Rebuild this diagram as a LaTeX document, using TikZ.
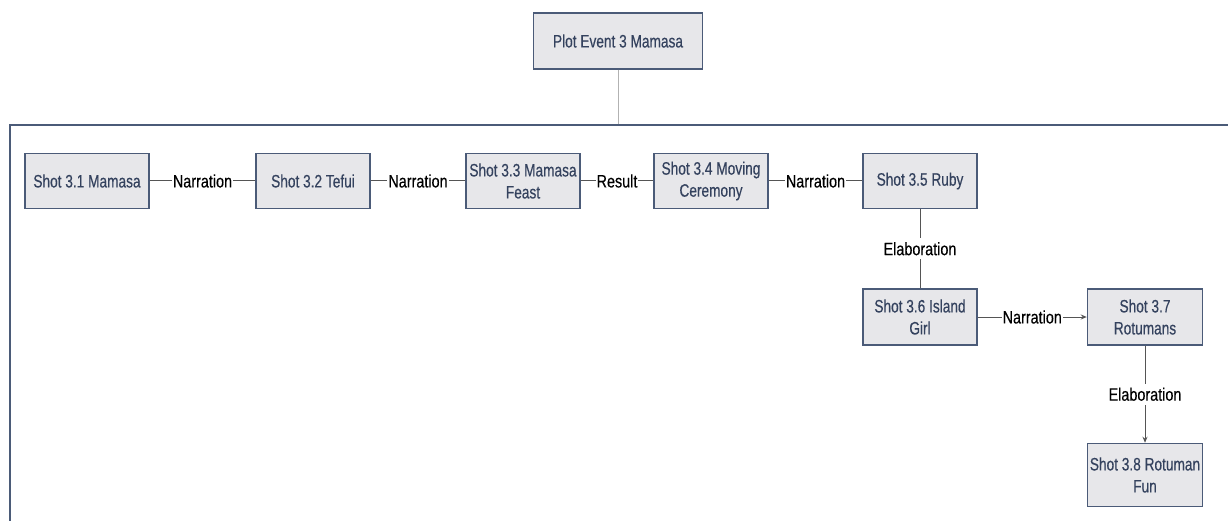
\documentclass[tikz,border=0pt]{standalone}
\usepackage{fontspec}
\setmainfont[FakeStretch=0.76, FakeBold=0.4]{Liberation Sans}
\newfontfamily\lblfont[FakeStretch=0.8, FakeBold=0.3]{Liberation Sans}
\usetikzlibrary{arrows.meta}

\definecolor{boxline}{HTML}{4B5B78}
\definecolor{boxfill}{HTML}{E7E7EA}
\definecolor{boxtext}{HTML}{34425E}
\definecolor{linkgray}{HTML}{555555}

\tikzset{
  shot/.style={draw=boxline, fill=boxfill, line width=1.5pt, text=boxtext,
    minimum width=114pt, minimum height=55pt, align=center, inner xsep=2pt,
    font=\fontsize{18}{22}\selectfont},
  link/.style={draw=linkgray, line width=1pt},
  lbl/.style={fill=white, inner sep=1pt, text=black,
    font=\lblfont\fontsize{18}{22}\selectfont},
}

\begin{document}
\begin{tikzpicture}[x=1pt, y=-1pt, >={Stealth[length=6pt,width=5pt]}]
  % 1. page and clip
  \clip (0,0) rectangle (1228,521);
  \fill[white] (0,0) rectangle (1228,521);

  % 2. the plot event and its frame
  \node[shot, minimum width=169pt, minimum height=56pt] (p3) at (618,41) {Plot Event 3 Mamasa};
  \coordinate (ftop) at (618,125);
  \draw[draw=gray!60, line width=1pt] (p3) -- (ftop);
  \draw[boxline, line width=2pt] (1240,125) -- (10,125) -- (10,540);

  % 3. the shots in the first row
  \node[shot, minimum width=124pt] (s31) at (87,181) {Shot 3.1 Mamasa};
  \node[shot] (s32) at (313,181) {Shot 3.2 Tefui};
  \node[shot] (s33) at (523,181) {Shot 3.3 Mamasa\\Feast};
  \node[shot] (s34) at (711,181) {Shot 3.4 Moving\\Ceremony};
  \node[shot] (s35) at (920,181) {Shot 3.5 Ruby};

  % 4. the shots further down
  \node[shot, minimum height=56pt] (s36) at (920,317) {Shot 3.6 Island\\Girl};
  \node[shot, minimum width=115pt, minimum height=56pt] (s37) at (1145,317) {Shot 3.7\\Rotumans};
  \node[shot, minimum width=115pt, minimum height=63pt] (s38) at (1145,475) {Shot 3.8 Rotuman\\Fun};

  % 5. relations
  \draw[link] (s31) -- node[lbl] {Narration} (s32);
  \draw[link] (s32) -- node[lbl] {Narration} (s33);
  \draw[link] (s33) -- node[lbl] {Result} (s34);
  \draw[link] (s34) -- node[lbl] {Narration} (s35);
  \draw[link] (s35) -- node[lbl, inner sep=4pt] {Elaboration} (s36);
  \draw[link, ->] (s36) -- node[lbl] {Narration} (s37);
  \draw[link, ->] (s37) -- node[lbl, inner sep=4pt] {Elaboration} (s38);
\end{tikzpicture}
\end{document}
